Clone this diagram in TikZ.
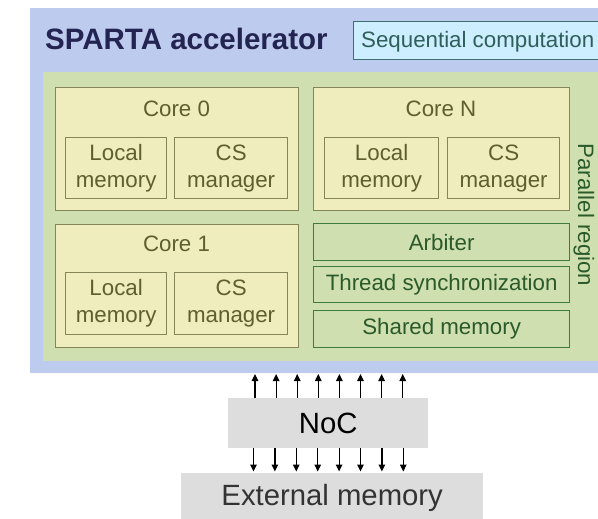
\documentclass[tikz,border=0pt]{standalone}
\usepackage{fontspec}
\setmainfont{Liberation Sans}
\usetikzlibrary{arrows.meta}
\definecolor{bluebg}{HTML}{BDCCEE}
\definecolor{greenbg}{HTML}{CFDFB0}
\definecolor{corefill}{HTML}{EFEDBD}
\definecolor{coreline}{HTML}{85855A}
\definecolor{coretext}{HTML}{5E5E2E}
\definecolor{grline}{HTML}{3F7A3F}
\definecolor{grtext}{HTML}{2A5A2A}
\definecolor{seqfill}{HTML}{CCEEFF}
\definecolor{seqline}{HTML}{3F6F6F}
\definecolor{seqtext}{HTML}{2F5F5A}
\definecolor{titletext}{HTML}{242452}
\definecolor{grayfill}{HTML}{DDDDDD}
\tikzset{
  txt/.style={font=\fontsize{22.3}{27}\selectfont, inner sep=0pt},
  corebox/.style={draw=coreline, fill=corefill, line width=1.3pt, anchor=north west, inner sep=0pt},
  innerbox/.style={corebox, text=coretext, align=center, font=\fontsize{22.3}{27}\selectfont},
  greenbox/.style={draw=grline, fill=greenbg, line width=1.3pt, anchor=north west, inner sep=0pt, text=grtext, font=\fontsize{22.3}{27}\selectfont},
  graybox/.style={fill=grayfill, anchor=north west, inner sep=0pt, font=\fontsize{29.3}{34}\selectfont},
  arr/.style={line width=1.2pt, -{Triangle[width=6.5pt,length=7pt]}}
}
\begin{document}
\begin{tikzpicture}[x=1pt,y=-1pt]
\useasboundingbox (0,0) rectangle (598,519);
\clip (0,0) rectangle (598,519);
% backgrounds
\node[fill=bluebg, anchor=north west, minimum width=580, minimum height=365, inner sep=0pt] (acc) at (30,8) {};
\node[fill=greenbg, anchor=north west, minimum width=570, minimum height=289, inner sep=0pt] (par) at (43,72) {};
% title
\node[anchor=base west, inner sep=0pt, text=titletext, font=\bfseries\fontsize{29.5}{34}\selectfont] (title) at (45,49.3) {SPARTA accelerator};
\node[draw=seqline, fill=seqfill, line width=1.3pt, anchor=north west, minimum width=260, minimum height=38, inner sep=0pt] (seq) at (352.5,21) {};
\node[txt, anchor=base west, text=seqtext] (seqt) at (361,47.7) {Sequential computation};
% Core 0
\node[corebox, minimum width=243, minimum height=123] (c0) at (55,87) {};
\node[txt, text=coretext] (c0t) at (176.5,109) {Core 0};
\node[innerbox, minimum width=101, minimum height=61] (c0lm) at (65,137) {Local\\memory};
\node[innerbox, minimum width=113, minimum height=61] (c0cs) at (174,137) {CS\\manager};
% Core N
\node[corebox, minimum width=256, minimum height=123] (cn) at (313,87) {};
\node[txt, text=coretext] (cnt) at (441,109) {Core N};
\node[innerbox, minimum width=114, minimum height=61] (cnlm) at (324,137) {Local\\memory};
\node[innerbox, minimum width=112, minimum height=61] (cncs) at (447,137) {CS\\manager};
% Core 1
\node[corebox, minimum width=243, minimum height=123] (c1) at (55,223.5) {};
\node[txt, text=coretext] (c1t) at (176.5,244) {Core 1};
\node[innerbox, minimum width=101, minimum height=62] (c1lm) at (65,272) {Local\\memory};
\node[innerbox, minimum width=113, minimum height=62] (c1cs) at (174,272) {CS\\manager};
% green boxes
\node[greenbox, minimum width=256, minimum height=37] (arb) at (313,223) {Arbiter};
\node[greenbox, minimum width=256, minimum height=36] (sync) at (313,266) {Thread synchronization};
\node[greenbox, minimum width=256, minimum height=37] (shm) at (313,310) {Shared memory};
\node[txt, text=grtext, rotate=-90] (plab) at (584,215) {Parallel region};
% NoC and external memory
\node[graybox, minimum width=200, minimum height=50] (noc) at (228,398) {NoC};
\node[graybox, minimum width=302, minimum height=50, text=black!80] (ext) at (181,473) {External memory};
% arrows
\foreach \i in {0,...,7} {
  \coordinate (u\i) at (255+21.1*\i,374);
  \draw[arr] (noc.north -| u\i) -- (u\i);
  \coordinate (d\i) at (253.5+21.4*\i,471.5);
  \draw[arr] (noc.south -| d\i) -- (d\i);
}
\end{tikzpicture}
\end{document}
